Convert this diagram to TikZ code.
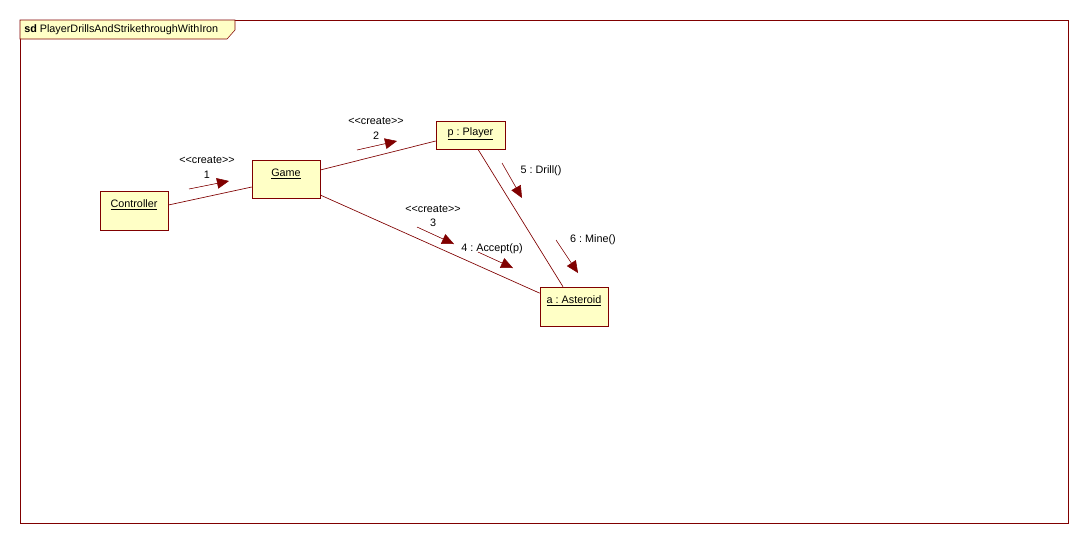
\documentclass[tikz,border=0pt]{standalone}
\usepackage{fontspec}
\setmainfont{Liberation Sans}
\usetikzlibrary{arrows.meta}
\definecolor{umlred}{HTML}{800000}
\definecolor{umlfill}{HTML}{FFFFC6}
\newcommand{\stereo}[1]{{<}{<}#1{>}{>}}
\tikzset{
    obj/.style={draw=umlred, fill=umlfill, inner sep=0pt, minimum width=51pt, text height=12pt, text depth=17.25pt}, % object box
    msg/.style={draw=umlred, -{Triangle[length=9pt, width=8pt]}, fill=umlred}, % message arrow
    link/.style={draw=umlred, line width=0.5pt}
}
\frenchspacing

\begin{document}
\begin{tikzpicture}[x=0.75pt, y=-0.75pt, font=\fontsize{8.1}{9.5}\selectfont]
            \useasboundingbox[fill=white] (0,0) rectangle (1088,544);
            \draw[umlred] (20,20) rectangle (1068,523);
            \draw[umlred, fill=umlfill] (20,20) -- (235,20) -- (235,30) -- (227,39) -- (20,39) -- cycle;
            \node[anchor=west, inner sep=0pt] (title) at (24,30) {\textbf{sd} PlayerDrillsAndStrikethroughWithIron};

            % objects
            \node[obj] (ctrl) at (134,210.5) {\underline{Controller}};
            \node[obj, minimum height=28.5pt, text depth=16.5pt] (game) at (286,179) {\underline{Game}};
            \node[obj, minimum width=51.75pt, text height=10.5pt, text depth=10.5pt] (player) at (470.5,135) {\underline{p : Player}};
            \node[obj] (ast) at (574,306.5) {\underline{a : Asteroid}};

            % links
            \draw[link] ([yshift=4.1pt]ctrl.east) -- ([yshift=-6pt]game.west);
            \draw[link] ([yshift=6.75pt]game.east) -- ([yshift=-4.5pt]player.west);
            \draw[link] ([yshift=-12pt]game.east) -- ([yshift=10pt]ast.west);
            \draw[link] ([xshift=5.6pt]player.south) -- ([xshift=-8.25pt]ast.north);

            % messages
            \draw[msg] (189,189) -- (229,181);
            \node (st1) at (207,160) {\stereo{create}};
            \node (m1) at (207,175) {1};
            \draw[msg] (357,150) -- (397,141);
            \node (st2) at (376,121) {\stereo{create}};
            \node (m2) at (376,136) {2};
            \draw[msg] (417,227) -- (454,244);
            \node (st3) at (433,209) {\stereo{create}};
            \node (m3) at (433,223) {3};
            \draw[msg] (478,252) -- (513,268);
            \node (m4) at (492,249) {4 : Accept(p)};
            \draw[msg] (502,163) -- (522,198);
            \node (m5) at (541,171) {5 : Drill()};
            \draw[msg] (556,240) -- (578,273);
            \node (m6) at (593,240) {6 : Mine()};
        \end{tikzpicture}
\end{document}
